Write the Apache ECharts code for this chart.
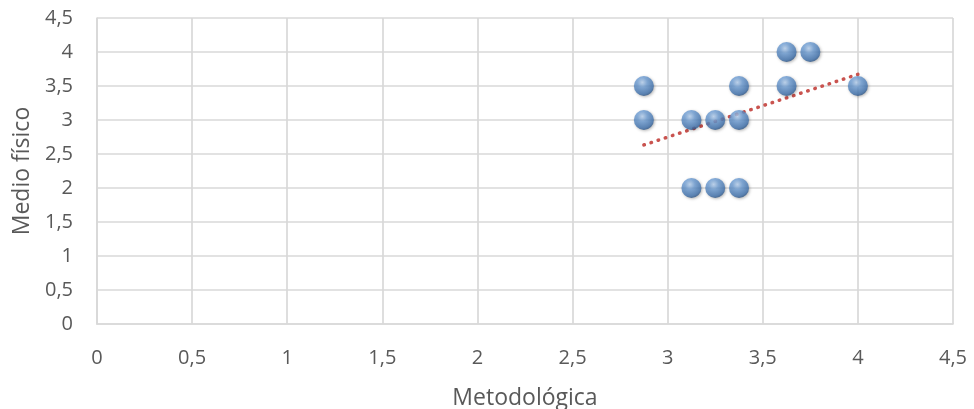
<!DOCTYPE html>
<html><head><meta charset="utf-8">
<script src="https://cdn.jsdelivr.net/npm/echarts@6/dist/echarts.min.js"></script>
<style>html,body{margin:0;padding:0;background:#fff}#c{width:974px;height:409px}</style>
</head><body><div id="c"></div>
<script>
const xValues = [2.875, 2.875, 3.125, 3.125, 3.25, 3.25, 3.375, 3.375, 3.375, 3.625, 3.625, 3.75, 4];
const yValues = [3.5, 3, 3, 2, 3, 2, 3.5, 3, 2, 4, 3.5, 4, 3.5];
const xTitle = 'Metodológica';
const yTitle = 'Medio físico';

const points = xValues.map((x, i) => [x, yValues[i]]);
const n = xValues.length;
const mx = xValues.reduce((a, b) => a + b, 0) / n;
const my = yValues.reduce((a, b) => a + b, 0) / n;
let sxy = 0, sxx = 0;
for (let i = 0; i < n; i++) { sxy += (xValues[i] - mx) * (yValues[i] - my); sxx += (xValues[i] - mx) ** 2; }
const slope = sxy / sxx, icpt = my - slope * mx;
const xmin = Math.min(...xValues), xmax = Math.max(...xValues);
const trend = [[xmin, icpt + slope * xmin], [xmax, icpt + slope * xmax]];

const fmt = v => String(v).replace('.', ',');
const font = '"Open Sans", "Liberation Sans", sans-serif';
const chart = echarts.init(document.getElementById('c'), null, {renderer: 'canvas'});
chart.setOption({
  animation: false,
  grid: {left: 97, right: 21, top: 18, bottom: 85, containLabel: false, outerBoundsMode: 'none'},
  xAxis: {
    type: 'value', min: 0, max: 4.5, interval: 0.5,
    name: xTitle, nameLocation: 'middle', nameGap: 63,
    nameTextStyle: {color: '#595959', fontSize: 23, fontFamily: font},
    axisLine: {show: true, lineStyle: {color: '#d9d9d9', width: 1.7}},
    axisTick: {show: false},
    axisLabel: {color: '#595959', fontSize: 20, fontFamily: font, margin: 24, formatter: fmt},
    splitLine: {show: true, lineStyle: {color: '#d9d9d9', width: 1.7}}
  },
  yAxis: {
    type: 'value', min: 0, max: 4.5, interval: 0.5,
    name: yTitle, nameLocation: 'middle', nameGap: 63,
    nameTextStyle: {color: '#595959', fontSize: 23, fontFamily: font},
    axisLine: {show: true, lineStyle: {color: '#d9d9d9', width: 1.7}},
    axisTick: {show: false},
    axisLabel: {color: '#595959', fontSize: 20, fontFamily: font, margin: 24, formatter: fmt},
    splitLine: {show: true, lineStyle: {color: '#d9d9d9', width: 1.7}}
  },
  series: [
    {
      type: 'line', data: trend, showSymbol: false, symbol: 'none', z: 1,
      lineStyle: {color: '#c9534f', width: 3.5, type: [0.5, 7], cap: 'round'}
    },
    {
      type: 'scatter', data: points, symbol: 'circle', symbolSize: 20, z: 2,
      itemStyle: {
        color: {
          type: 'radial', x: 0.42, y: 0.32, r: 0.72,
          colorStops: [
            {offset: 0, color: '#bcd6f4'},
            {offset: 0.35, color: '#6f9fd6'},
            {offset: 0.8, color: '#4274b0'},
            {offset: 1, color: '#274c7a'}
          ]
        },
        shadowColor: 'rgba(0,0,0,0.35)', shadowBlur: 3, shadowOffsetX: 1, shadowOffsetY: 1
      }
    }
  ]
});
</script></body></html>
